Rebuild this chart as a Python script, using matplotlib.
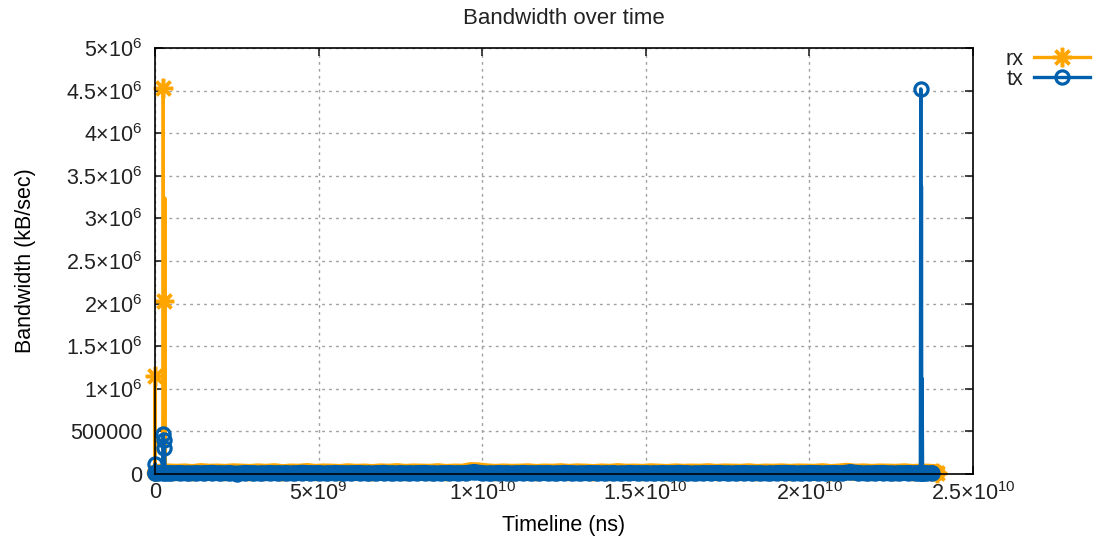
import matplotlib
matplotlib.use('Agg')
from matplotlib import pyplot as plt
import numpy as np

# timestamps are in units of 1e8 ns, bandwidth in kB/sec
rx_time = [
    0, 0.03, 0.1, 1.2, 2.45, 2.53, 2.6, 2.74, 2.9, 3.0, 3.1, 4.0,
    6.5, 9, 11.5, 14, 16.5, 19, 21.5, 24, 26.5, 29, 31.5, 34, 36.5, 39,
    41.5, 44, 46.5, 49, 51.5, 54, 56.5, 59, 61.5, 64, 66.5, 69, 71.5, 74,
    76.5, 79, 81.5, 84, 86.5, 89, 91.5, 94, 96.5, 99, 101.5, 104, 106.5,
    109, 111.5, 114, 116.5, 119, 121.5, 124, 126.5, 129, 131.5, 134, 136.5,
    139, 141.5, 144, 146.5, 149, 151.5, 154, 156.5, 159, 161.5, 164, 166.5,
    169, 171.5, 174, 176.5, 179, 181.5, 184, 186.5, 189, 191.5, 194, 196.5,
    199, 201.5, 204, 206.5, 209, 211.5, 214, 216.5, 219, 221.5, 224, 226.5,
    229, 231.5, 234, 236.5, 239,
]
rx_bw = [
    15000, 1150000, 12000, 18000, 22000, 4530000, 20000, 2030000, 25000,
    3240000, 18000, 22000,
    18000, 22000, 15000, 26000, 19000, 21000, 17000, 24000, 20000, 16000,
    23000, 18000, 25000, 14000, 21000, 19000, 27000, 17000, 22000, 20000,
    16000, 24000, 18000, 21000, 15000, 23000, 19000, 26000, 17000, 22000,
    20000, 18000, 25000, 16000, 21000, 19000, 38000, 34000, 23000, 17000,
    22000, 18000, 20000, 24000, 16000, 21000, 19000, 25000, 17000, 23000,
    20000, 15000, 22000, 18000, 26000, 19000, 21000, 17000, 24000, 20000,
    16000, 23000, 18000, 21000, 19000, 25000, 17000, 22000, 20000, 18000,
    24000, 16000, 21000, 19000, 23000, 17000, 22000, 20000, 18000, 25000,
    15000, 21000, 30000, 19000, 23000, 17000, 22000, 20000, 18000, 24000,
    16000, 21000, 19000, 12000,
]

tx_time = [
    0, 0.05, 0.15, 1.0, 2.3, 2.44, 2.7, 2.9, 3.1, 4.0,
    5, 7.5, 10, 12.5, 15, 17.5, 20, 22.5, 25, 27.5, 30, 32.5, 35, 37.5,
    40, 42.5, 45, 47.5, 50, 52.5, 55, 57.5, 60, 62.5, 65, 67.5, 70, 72.5,
    75, 77.5, 80, 82.5, 85, 87.5, 90, 92.5, 95, 97.5, 100, 102.5, 105,
    107.5, 110, 112.5, 115, 117.5, 120, 122.5, 125, 127.5, 130, 132.5, 135,
    137.5, 140, 142.5, 145, 147.5, 150, 152.5, 155, 157.5, 160, 162.5, 165,
    167.5, 170, 172.5, 175, 177.5, 180, 182.5, 185, 187.5, 190, 192.5, 195,
    197.5, 200, 202.5, 205, 207.5, 210, 212.5, 215, 217.5, 220, 222.5, 225,
    227.5, 230, 232.5,
    233.9, 234.05, 234.15, 234.25, 234.35, 234.45, 234.6, 235.5, 237.5,
]
tx_bw = [
    10000, 120000, 15000, 10000, 12000, 470000, 400000, 300000, 12000, 10000,
    8000, 12000, 6000, 10000, 9000, 14000, 7000, 11000, 5000, 13000,
    9000, 6000, 12000, 8000, 10000, 7000, 15000, 9000, 11000, 6000,
    13000, 8000, 10000, 12000, 7000, 9000, 14000, 6000, 11000, 8000,
    10000, 13000, 7000, 9000, 12000, 8000, 11000, 24000, 10000, 6000,
    12000, 9000, 7000, 13000, 8000, 10000, 11000, 6000, 14000, 9000,
    7000, 12000, 10000, 8000, 11000, 6000, 13000, 9000, 10000, 7000,
    12000, 8000, 14000, 9000, 6000, 11000, 10000, 13000, 7000, 9000,
    12000, 8000, 10000, 6000, 11000, 14000, 9000, 7000, 13000, 10000,
    8000, 12000, 9000, 22000, 11000, 7000, 10000, 13000, 6000, 9000,
    12000, 8000,
    10000, 4520000, 12000, 3380000, 9000, 1120000, 11000, 8000, 10000,
]

# spikes that gnuplot drew without a point symbol
rx_unmarked = [3240000]
tx_unmarked = [3380000, 1120000]

x_ticks = [0, 5e9, 1e10, 1.5e10, 2e10, 2.5e10]
x_labels = ['0', '5×10$^{9}$', '1×10$^{10}$', '1.5×10$^{10}$', '2×10$^{10}$',
            '2.5×10$^{10}$']
y_ticks = [0, 5e5, 1e6, 1.5e6, 2e6, 2.5e6, 3e6, 3.5e6, 4e6, 4.5e6, 5e6]
y_labels = ['0', '500000', '1×10$^{6}$', '1.5×10$^{6}$', '2×10$^{6}$',
            '2.5×10$^{6}$', '3×10$^{6}$', '3.5×10$^{6}$', '4×10$^{6}$',
            '4.5×10$^{6}$', '5×10$^{6}$']

RX_COLOR = '#ffa500'
TX_COLOR = '#0060ad'
FS = 15.5

plt.rcParams['font.family'] = ['Liberation Sans', 'DejaVu Sans']
plt.rcParams['mathtext.fontset'] = 'custom'
plt.rcParams['mathtext.rm'] = 'Liberation Sans'
plt.rcParams['mathtext.it'] = 'Liberation Sans:italic'
plt.rcParams['text.color'] = '#222222'


def draw_series(ax, time, bw, unmarked, color, marker, ms, mew, band_lw,
                label, mark_low=True):
    t = np.array(time) * 1e8
    v = np.array(bw, dtype=float)
    # thousands of near-zero samples merge into a solid band in the original;
    # a thick line under the low samples stands in for them
    low = np.ma.masked_where(v > 100000, v)
    ax.plot(t, low, color=color, lw=band_lw, solid_capstyle='round',
            solid_joinstyle='round', clip_on=False)
    last = len(bw) - 1
    marks = [i for i, val in enumerate(bw)
             if val not in unmarked and (mark_low or val > 100000 or i == last)]
    ax.plot(t, v, color=color, lw=2.4, marker=marker, ms=ms, mew=mew,
            mfc='none', markevery=marks, clip_on=False, label=label)


fig = plt.figure(figsize=(10.94, 5.38), dpi=100)
ax = fig.add_axes([155 / 1094, 1 - 474 / 538, (973 - 155) / 1094, (474 - 48) / 538])

draw_series(ax, rx_time, rx_bw, rx_unmarked, RX_COLOR, (8, 2, 0), 14, 2.5,
            12.5, 'rx', mark_low=False)
draw_series(ax, tx_time, tx_bw, tx_unmarked, TX_COLOR, 'o', 9.5, 2.3, 11.5, 'tx')

ax.set_xlim(0, 2.5e10)
ax.set_ylim(0, 5e6)
ax.set_xticks(x_ticks)
ax.set_xticklabels(x_labels)
ax.set_yticks(y_ticks)
ax.set_yticklabels(y_labels)
ax.tick_params(direction='in', length=6, width=1.2, labelsize=FS,
               top=True, right=True, colors='#222222')
ax.tick_params(axis='x', pad=6)
ax.tick_params(axis='y', pad=9)
ax.grid(True, color='#a0a0a0', lw=1, linestyle=(0, (2, 3)))
ax.set_axisbelow(True)
for sp in ax.spines.values():
    sp.set_linewidth(1.2)
    sp.set_color('black')
    sp.set_zorder(5)

ax.set_title('Bandwidth over time', fontsize=FS + 0.5, pad=17)
ax.set_xlabel('Timeline (ns)', fontsize=FS, labelpad=7)
ax.set_ylabel('Bandwidth (kB/sec)', fontsize=FS, labelpad=22)

fig.legend(loc='upper right', bbox_to_anchor=(1090 / 1094, 1 - 49 / 538),
           markerfirst=False, frameon=False, fontsize=FS, handlelength=2.6,
           handletextpad=0.5, labelspacing=-0.05, borderpad=0,
           borderaxespad=0)

fig.savefig('out.png', dpi=100)
